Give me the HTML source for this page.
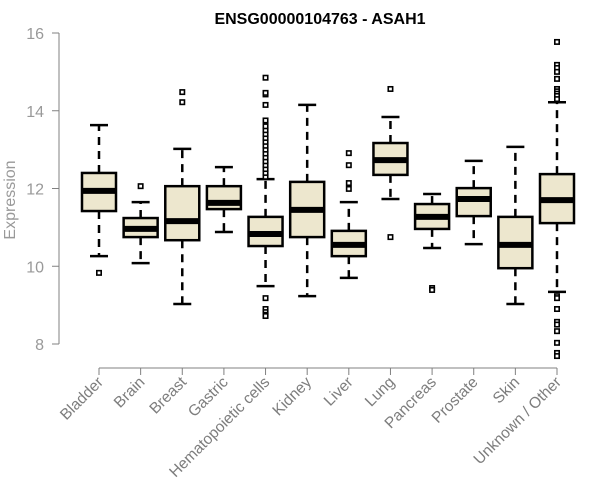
<!DOCTYPE html>
<html><head><meta charset="utf-8"><style>
html,body{margin:0;padding:0;background:#fff;}
svg{display:block;font-family:"Liberation Sans",sans-serif;}
</style></head><body>
<svg id="chart" width="600" height="500">
<text x="320" y="24" text-anchor="middle" font-weight="bold" font-size="16" fill="#000">ENSG00000104763 - ASAH1</text>
<text transform="translate(15,200) rotate(-90)" text-anchor="middle" font-size="16" fill="#999">Expression</text>
</svg>
<script>
const categories=["Bladder","Brain","Breast","Gastric","Hematopoietic cells","Kidney","Liver","Lung","Pancreas","Prostate","Skin","Unknown / Other"];
const whiskerLow=[10.26,10.08,9.03,10.88,9.49,9.23,9.70,11.73,10.47,10.57,9.03,9.34];
const q1=[11.42,10.75,10.67,11.47,10.52,10.75,10.26,12.35,10.96,11.29,9.95,11.11];
const medians=[11.94,10.96,11.16,11.63,10.83,11.45,10.55,12.73,11.27,11.73,10.55,11.70];
const q3=[12.40,11.24,12.06,12.06,11.27,12.17,10.91,13.17,11.60,12.01,11.27,12.37];
const whiskerHigh=[13.63,11.65,13.02,12.55,12.24,14.15,11.65,13.84,11.86,12.71,13.07,14.22];
const outliers=[[9.83],[12.06],[14.48,14.22],[],
[12.3,12.4,12.5,12.6,12.7,12.8,12.9,13.0,13.1,13.2,13.3,13.4,13.5,13.6,13.75,14.15,14.42,14.46,14.85,9.18,8.9,8.82,8.75,8.72],
[],[12.91,12.6,12.14,11.99],[14.56,10.75],[9.44,9.39],[],[],
[15.77,15.18,15.1,15.0,14.82,14.56,14.5,14.44,14.38,14.3,9.23,9.18,8.9,8.57,8.5,8.33,8.03,7.77,7.69]];
const yTicks=[8,10,12,14,16];

const svg=document.getElementById('chart');
const NS='http://www.w3.org/2000/svg';
const y=v=>344-(v-8)*(311/8);
const x=i=>99+i*(557-99)/11;
function el(t,a){const e=document.createElementNS(NS,t);for(const k in a)e.setAttribute(k,a[k]);svg.appendChild(e);return e;}
let ya=el('path',{d:`M59 ${y(8)}V${y(16)}`,stroke:'#808080','stroke-width':1,fill:'none'});


yTicks.forEach(t=>{
 let tk=el('line',{x1:52,x2:59,y1:y(t),y2:y(t),stroke:'#808080'});
 
 
 let tl=el('text',{x:44,y:y(t)+6,'text-anchor':'end','font-size':16,fill:'#999'});
 tl.textContent=t;
 
 
});
let xa=el('path',{d:`M${x(0)} 368H${x(11)}`,stroke:'#808080',fill:'none'});


categories.forEach((c,i)=>{
 const cx=x(i),hw=17;
 let tk=el('line',{x1:cx,x2:cx,y1:368,y2:375,stroke:'#808080'});
 
 
 let tl=el('text',{transform:`translate(${cx+5},${383}) rotate(-45)`,'text-anchor':'end','font-size':15.5,fill:'#7d7d7d'});
 tl.textContent=c;
 
 
 const g=document.createElementNS(NS,'g');svg.appendChild(g);
 
 
 const add=(t,a)=>{const e=document.createElementNS(NS,t);for(const k in a)e.setAttribute(k,a[k]);g.appendChild(e);return e;};
 add('line',{x1:cx,x2:cx,y1:y(q3[i]),y2:y(whiskerHigh[i]),stroke:'#000','stroke-width':2.5,'stroke-dasharray':'8,6'});
 add('line',{x1:cx,x2:cx,y1:y(q1[i]),y2:y(whiskerLow[i]),stroke:'#000','stroke-width':2.5,'stroke-dasharray':'8,6'});
 add('line',{x1:cx-9,x2:cx+9,y1:y(whiskerHigh[i]),y2:y(whiskerHigh[i]),stroke:'#000','stroke-width':2.5});
 add('line',{x1:cx-9,x2:cx+9,y1:y(whiskerLow[i]),y2:y(whiskerLow[i]),stroke:'#000','stroke-width':2.5});
 add('rect',{x:cx-hw,y:y(q3[i]),width:hw*2,height:y(q1[i])-y(q3[i]),fill:'#ede7ce',stroke:'#000','stroke-width':2.5});
 add('line',{x1:cx-hw,x2:cx+hw,y1:y(medians[i]),y2:y(medians[i]),stroke:'#000','stroke-width':6});
 outliers[i].forEach(o=>{add('rect',{x:cx-2.2,y:y(o)-2.2,width:4.4,height:4.4,fill:'#fff',stroke:'#000','stroke-width':1.6});});
});
</script>
</body></html>
